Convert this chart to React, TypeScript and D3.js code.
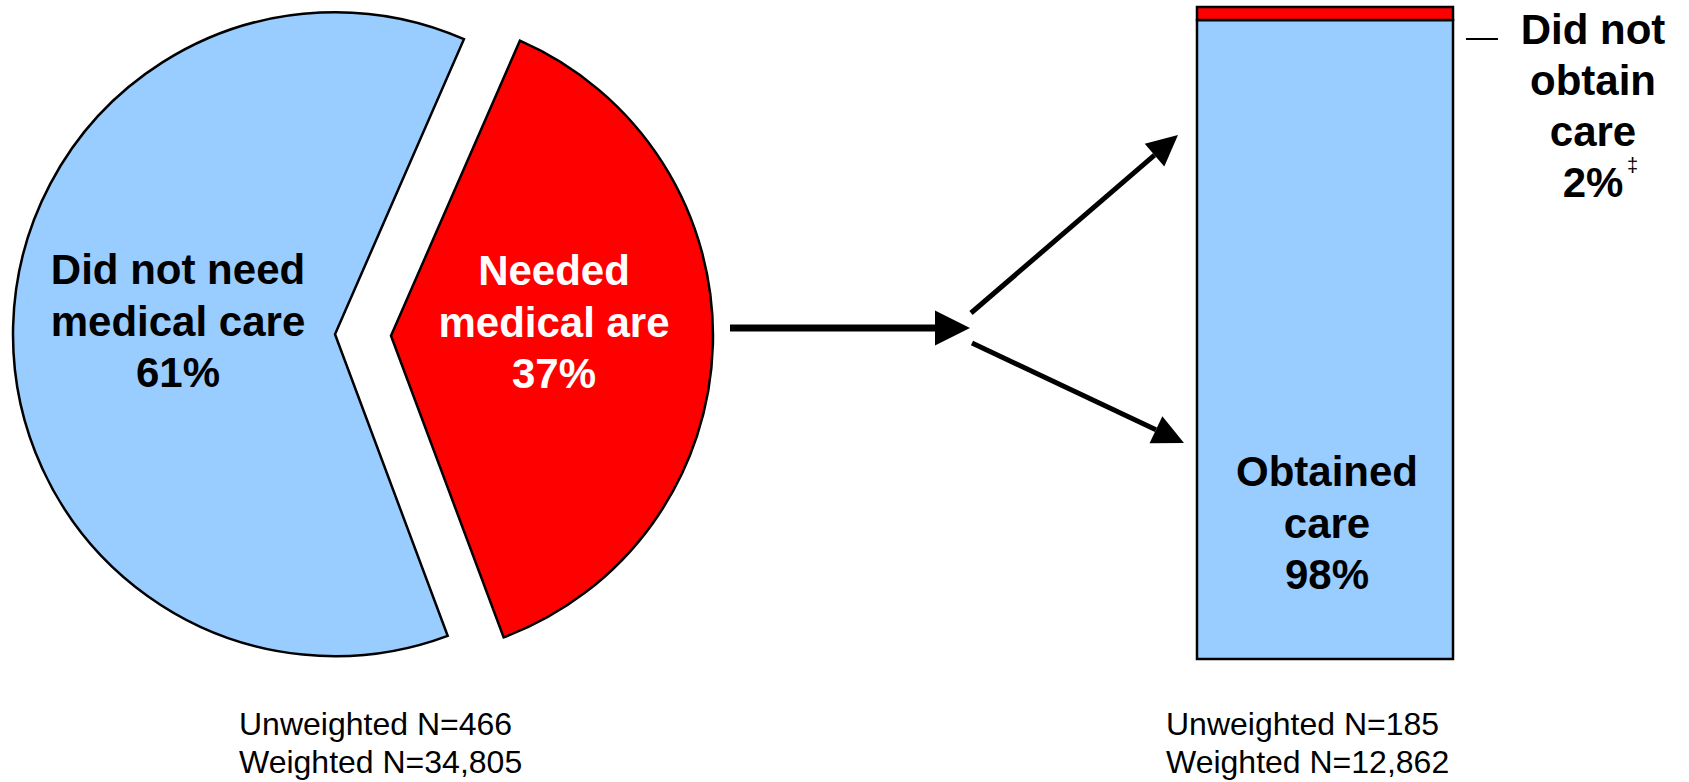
import React from "react";
import * as d3 from "d3";

const pieCategories = ["Needed medical are", "Did not need medical care"];
const pieValues = [37, 61];
const pieColors = ["#FF0000", "#99CCFF"];
const pieLabelLines = [
  ["Needed", "medical are", "37%"],
  ["Did not need", "medical care", "61%"],
];
const pieLabelColors = ["#FFFFFF", "#000000"];
const pieNotes = ["Unweighted N=466", "Weighted N=34,805"];

const barCategories = ["Obtained care", "Did not obtain care"];
const barValues = [98, 2];
const barColors = ["#99CCFF", "#FF0000"];
const barNotes = ["Unweighted N=185", "Weighted N=12,862"];

const W = 1689;
const H = 782;
const FONT = "'Liberation Sans', Arial, sans-serif";

function arrowHead(x1: number, y1: number, x2: number, y2: number, len: number, wid: number) {
  const dx = x2 - x1, dy = y2 - y1;
  const L = Math.hypot(dx, dy);
  const ux = dx / L, uy = dy / L;
  const bx = x2 - ux * len, by = y2 - uy * len;
  const px = -uy, py = ux;
  return {
    base: [bx, by],
    pts: `${x2},${y2} ${bx + px * wid / 2},${by + py * wid / 2} ${bx - px * wid / 2},${by - py * wid / 2}`,
  };
}

function Arrow({ x1, y1, x2, y2, sw, len, wid }: any) {
  const h = arrowHead(x1, y1, x2, y2, len, wid);
  return (
    <g>
      <line x1={x1} y1={y1} x2={h.base[0]} y2={h.base[1]} stroke="#000" strokeWidth={sw} />
      <polygon points={h.pts} fill="#000" />
    </g>
  );
}

export default function App() {
  const cx = 363, cy = 335, r = 322, explode = 28;
  const startDeg = 23.6;
  const pie = d3
    .pie<number>()
    .sort(null)
    .startAngle((startDeg * Math.PI) / 180)
    .endAngle((startDeg * Math.PI) / 180 + 2 * Math.PI)(pieValues);
  const arc = d3.arc<any>().innerRadius(0).outerRadius(r);
  const labelPos = [
    [554, 285],
    [178, 284],
  ];

  const barX = d3.scaleBand().domain(["bar"]).range([1197, 1453]).padding(0);
  const barY = d3.scaleLinear().domain([0, 100]).range([659, 7]);
  const stack = d3.stack<any>().keys(barCategories)([
    Object.fromEntries(barCategories.map((c, i) => [c, barValues[i]])),
  ]);

  return (
    <svg
      width={W}
      height={H}
      style={{ position: "absolute", left: 0, top: 0, background: "#fff" }}
      fontFamily={FONT}
    >
      {pie.map((p, i) => {
        const mid = (p.startAngle + p.endAngle) / 2;
        const ox = Math.sin(mid) * explode;
        const oy = -Math.cos(mid) * explode;
        return (
          <g key={pieCategories[i]} transform={`translate(${cx + ox},${cy + oy})`}>
            <path d={arc(p) || ""} fill={pieColors[i]} stroke="#000" strokeWidth={2.5} strokeLinejoin="miter" />
          </g>
        );
      })}
      {pieLabelLines.map((lines, i) => (
        <text
          key={i}
          x={labelPos[i][0]}
          y={labelPos[i][1]}
          textAnchor="middle"
          fontWeight="bold"
          fontSize={42}
          fill={pieLabelColors[i]}
        >
          {lines.map((t, j) => (
            <tspan key={j} x={labelPos[i][0]} dy={j === 0 ? 0 : 51.5}>
              {t}
            </tspan>
          ))}
        </text>
      ))}
      <text x={239} y={735} fontSize={32}>
        {pieNotes[0]}
      </text>
      <text x={239} y={773} fontSize={32}>
        {pieNotes[1]}
      </text>

      {/* arrows */}
      <Arrow x1={730} y1={328} x2={970} y2={328} sw={7} len={35} wid={35} />
      <Arrow x1={971} y1={313} x2={1178} y2={135} sw={5} len={31} wid={30} />
      <Arrow x1={972} y1={343} x2={1184} y2={443} sw={5} len={31} wid={30} />

      {/* stacked bar */}
      {stack.map((s, i) => (
        <rect
          key={barCategories[i]}
          x={barX("bar")}
          width={barX.bandwidth()}
          y={barY(s[0][1])}
          height={barY(s[0][0]) - barY(s[0][1])}
          fill={barColors[i]}
          stroke="#000"
          strokeWidth={2.5}
        />
      ))}
      <text x={1327} y={486} textAnchor="middle" fontWeight="bold" fontSize={42}>
        <tspan x={1327} dy={0}>Obtained</tspan>
        <tspan x={1327} dy={51.5}>care</tspan>
        <tspan x={1327} dy={51.5}>{barValues[0]}%</tspan>
      </text>
      <line x1={1466} x2={1498} y1={39} y2={39} stroke="#000" strokeWidth={2} />
      <text x={1593} y={44} textAnchor="middle" fontWeight="bold" fontSize={42}>
        <tspan x={1593} dy={0}>Did not</tspan>
        <tspan x={1593} dy={51}>obtain</tspan>
        <tspan x={1593} dy={51}>care</tspan>
      </text>
      <text x={1593} y={197} textAnchor="middle" fontWeight="bold" fontSize={42}>
        {barValues[1]}%
      </text>
      <text x={1627} y={172} fontSize={20}>
        ‡
      </text>
      <text x={1166} y={735} fontSize={32}>
        {barNotes[0]}
      </text>
      <text x={1166} y={773} fontSize={32}>
        {barNotes[1]}
      </text>
    </svg>
  );
}
